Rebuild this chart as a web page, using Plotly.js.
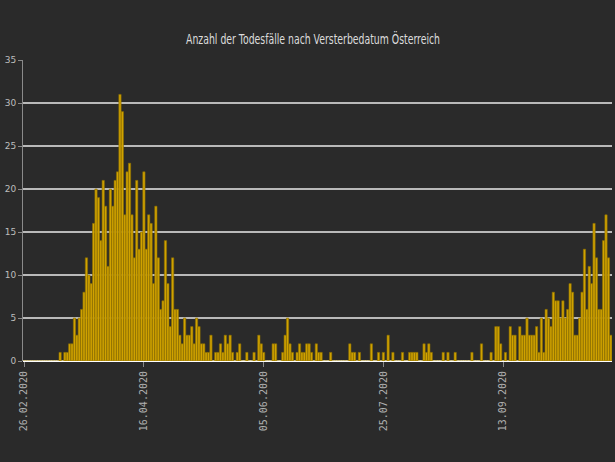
<!DOCTYPE html>
<html>
<head>
<meta charset="utf-8">
<script src="https://cdn.plot.ly/plotly-3.0.1.min.js"></script>
<style>
html,body{margin:0;padding:0;background:#2a2a2a;}
#chart{width:615px;height:462px;}
</style>
</head>
<body>
<div id="chart"></div>
<script>
// Daily deaths by date of death, starting 26.02.2020 (one value per day)
const startDate = '2020-02-26';
const deaths = [
  0,0,0,0,0,0,0,0,0,0, 0,0,0,0,0,1,0,1,1,2,
  2,5,3,5,6,8,12,10,9,16, 20,19,14,21,18,11,20,18,21,22,
  31,29,17,22,23,17,12,21,13,15, 22,13,17,16,9,18,12,6,7,14,
  9,4,12,6,6,3,2,5,3,3, 4,2,5,4,2,2,1,1,3,0,
  1,1,2,1,3,2,3,1,0,1, 2,0,0,1,0,0,1,0,3,2,
  1,0,0,0,2,2,0,0,1,3, 5,2,1,0,1,2,1,1,2,2,
  1,0,2,1,1,0,0,0,1,0, 0,0,0,0,0,0,2,1,1,0,
  1,0,0,0,0,2,0,0,1,0, 1,0,3,0,1,0,0,0,1,0,
  0,1,1,1,1,0,0,2,1,2, 1,0,0,0,0,1,0,1,0,0,
  1,0,0,0,0,0,0,1,0,0, 0,2,0,0,0,1,0,4,4,2,
  0,1,0,4,3,3,0,4,3,3, 5,3,3,3,4,1,5,1,6,5,
  4,8,7,7,5,7,5,6,9,8, 3,3,5,8,13,6,11,9,16,12,
  6,6,14,17,12,3
];
const yTicks = [0,5,10,15,20,25,30,35];
const titleText = 'Anzahl der Todesfälle nach Versterbedatum Österreich';

// build date list for the categories (one per day)
const dates = [];
const d0 = new Date(startDate + 'T00:00:00Z');
for (let i = 0; i < deaths.length; i++) {
  const d = new Date(d0.getTime() + i * 86400000);
  dates.push(d.toISOString().slice(0,10));
}
const rangeStart = new Date(d0.getTime() - 0.5*86400000).toISOString().slice(0,16).replace('T',' ');
const rangeEnd = new Date(d0.getTime() + (deaths.length - 0.5)*86400000).toISOString().slice(0,16).replace('T',' ');

const trace = {
  type: 'bar',
  x: dates,
  y: deaths,
  marker: {color: '#d0a200', line: {color: '#8c6e00', width: 0.6}},
  hoverinfo: 'x+y'
};

const layout = {
  width: 615, height: 462,
  paper_bgcolor: '#2a2a2a',
  plot_bgcolor: '#2a2a2a',
  margin: {l: 23, r: 3, t: 60, b: 101},
  bargap: 0.05,
  showlegend: false,
  title: {
    text: titleText,
    font: {family: 'DejaVu Sans, sans-serif', size: 14, color: '#dcdcdc'},
    x: 0.509, xanchor: 'center', y: 0.915, yanchor: 'middle'
  },
  xaxis: {
    type: 'date',
    range: [rangeStart, rangeEnd],
    tick0: startDate,
    dtick: 50*86400000,
    tickformat: '%d.%m.%Y',
    tickangle: -90,
    ticks: 'outside', ticklen: 5, tickcolor: '#888', tickwidth: 1,
    tickfont: {family: 'DejaVu Sans Mono, monospace', size: 10, color: '#b0b0b0'},
    showgrid: false,
    showline: false,
    zeroline: false
  },
  yaxis: {
    range: [0, 35],
    tickvals: yTicks,
    ticks: 'outside', ticklen: 4, tickcolor: '#888', tickwidth: 1,
    tickfont: {family: 'DejaVu Sans, sans-serif', size: 9, color: '#bdbdbd'},
    showgrid: true, gridcolor: '#b9b9b9', gridwidth: 1.5,
    zeroline: true, zerolinecolor: '#ffffff', zerolinewidth: 2,
    showline: true, linecolor: '#8a8a8a', linewidth: 1
  }
};

function condenseTitle() {
  const t = document.querySelector('#chart .gtitle');
  if (t) {
    t.setAttribute('textLength', '254');
    t.setAttribute('lengthAdjust', 'spacingAndGlyphs');
  }
}

Plotly.newPlot('chart', [trace], layout, {displayModeBar: false, staticPlot: true}).then(function (gd) {
  condenseTitle();
  gd.on('plotly_afterplot', condenseTitle);
});
</script>
</body>
</html>
